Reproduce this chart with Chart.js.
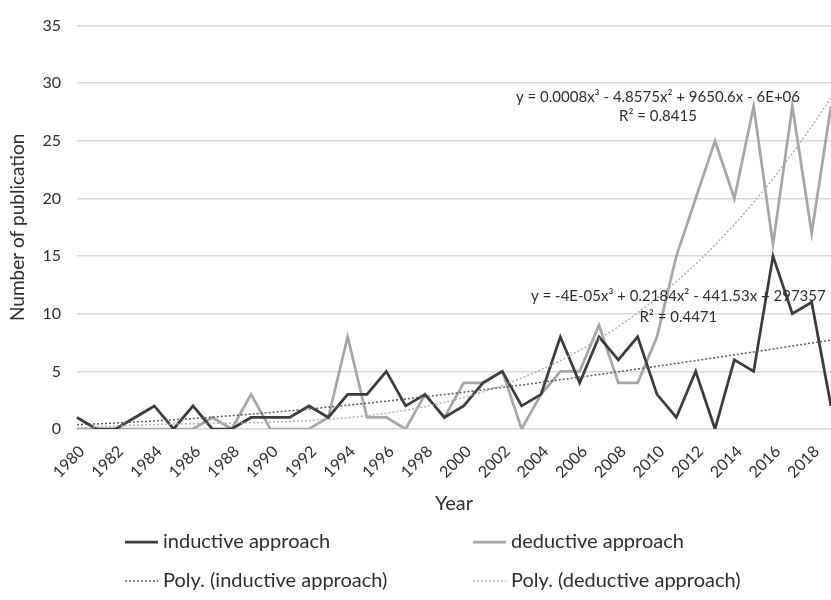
<!DOCTYPE html>
<html>
<head>
<meta charset="utf-8">
<title>Publications per year</title>
<script src="https://cdn.jsdelivr.net/npm/chart.js@4/dist/chart.umd.min.js"></script>
<style>
    html, body { margin: 0; padding: 0; background: #ffffff; }
    #grafico-wrap { width: 831px; height: 600px; }
</style>
</head>
<body>
<div id="grafico-wrap"><canvas id="graficoPublicacoes" width="831" height="600"></canvas></div>
<script>
// Dados
const anos = [];
for (let a = 1980; a <= 2019; a++) anos.push(String(a));

const indutivo = [1, 0, 0, 1, 2, 0, 2, 0, 0, 1,
                  1, 1, 2, 1, 3, 3, 5, 2, 3, 1,
                  2, 4, 5, 2, 3, 8, 4, 8, 6, 8,
                  3, 1, 5, 0, 6, 5, 15, 10, 11, 2];

const dedutivo = [0, 0, 0, 0, 0, 0, 0, 1, 0, 3,
                  0, 0, 0, 1, 8, 1, 1, 0, 3, 1,
                  4, 4, 5, 0, 3, 5, 5, 9, 4, 4,
                  8, 15, 20, 25, 20, 28, 16, 28, 17, 28];

const ticksY = [0, 5, 10, 15, 20, 25, 30, 35];

const nomesSeries = ['inductive approach', 'deductive approach',
                     'Poly. (inductive approach)', 'Poly. (deductive approach)'];

const equacaoIndutivo = ['y = -4E-05x³ + 0.2184x² - 441.53x + 297357', 'R² = 0.4471'];
const equacaoDedutivo = ['y = 0.0008x³ - 4.8575x² + 9650.6x - 6E+06', 'R² = 0.8415'];

const corEscura = '#3c3c3c';
const corClara = '#a6a6a6';
const corTexto = '#2e2e2e';
const fonte = 'Lato, "Open Sans", sans-serif';

// Função para ajustar um polinómio de grau 3 (mínimos quadrados), como a linha de tendência do Excel
function ajustePolinomial(valores) {
    const n = 4;
    const A = [];
    for (let i = 0; i < n; i++) A.push(new Array(n + 1).fill(0));
    valores.forEach((v, i) => {
        const t = (i - 19.5) / 10;
        const pot = [1, t, t * t, t * t * t];
        for (let r = 0; r < n; r++) {
            for (let c = 0; c < n; c++) A[r][c] += pot[r] * pot[c];
            A[r][n] += pot[r] * v;
        }
    });
    // eliminação de Gauss
    for (let p = 0; p < n; p++) {
        let max = p;
        for (let r = p + 1; r < n; r++) if (Math.abs(A[r][p]) > Math.abs(A[max][p])) max = r;
        [A[p], A[max]] = [A[max], A[p]];
        for (let r = p + 1; r < n; r++) {
            const f = A[r][p] / A[p][p];
            for (let c = p; c <= n; c++) A[r][c] -= f * A[p][c];
        }
    }
    const coef = new Array(n).fill(0);
    for (let r = n - 1; r >= 0; r--) {
        let s = A[r][n];
        for (let c = r + 1; c < n; c++) s -= A[r][c] * coef[c];
        coef[r] = s / A[r][r];
    }
    return valores.map((v, i) => {
        const t = (i - 19.5) / 10;
        return coef[0] + coef[1] * t + coef[2] * t * t + coef[3] * t * t * t;
    });
}

// Plugin para desenhar a legenda em duas colunas e as equações
const pluginTextos = {
    id: 'textos',
    afterDraw(chart) {
        const ctx = chart.ctx;
        const ds = chart.data.datasets;
        const x = chart.scales.x;
        const y = chart.scales.y;

        ctx.save();
        // equações das linhas de tendência
        ctx.fillStyle = corTexto;
        ctx.font = '15px ' + fonte;
        ctx.textAlign = 'center';
        ctx.textBaseline = 'middle';
        const xDed = x.getPixelForValue(30) + 1;
        ctx.fillText(equacaoDedutivo[0], xDed, y.getPixelForValue(28.8));
        ctx.fillText(equacaoDedutivo[1], xDed, y.getPixelForValue(27.1));
        const xInd = x.getPixelForValue(31) + 2;
        ctx.fillText(equacaoIndutivo[0], xInd, y.getPixelForValue(11.5));
        ctx.fillText(equacaoIndutivo[1], xInd, y.getPixelForValue(9.7));

        // legenda
        const colunas = [125, 473];
        const linhas = [542, 581];
        ctx.font = '20px ' + fonte;
        ctx.textAlign = 'left';
        ds.forEach((d, i) => {
            const cx = colunas[i % 2];
            const cy = linhas[Math.floor(i / 2)];
            ctx.beginPath();
            ctx.strokeStyle = d.borderColor;
            ctx.lineWidth = d.borderDash ? 1.5 : 2.75;
            ctx.setLineDash(d.borderDash || []);
            ctx.moveTo(cx, cy);
            ctx.lineTo(cx + 33, cy);
            ctx.stroke();
            ctx.setLineDash([]);
            ctx.fillStyle = corTexto;
            ctx.fillText(d.label, cx + 38, cy);
        });
        ctx.restore();
    }
};

const ctx = document.getElementById('graficoPublicacoes').getContext('2d');
const grafico = new Chart(ctx, {
    type: 'line',
    data: {
        labels: anos,
        datasets: [
            { label: nomesSeries[0], data: indutivo, borderColor: corEscura, borderWidth: 2.75, order: 1 },
            { label: nomesSeries[1], data: dedutivo, borderColor: corClara, borderWidth: 2.75, order: 2 },
            { label: nomesSeries[2], data: ajustePolinomial(indutivo), borderColor: '#5a5a5a', borderWidth: 1.5, borderDash: [2, 2], order: 0 },
            { label: nomesSeries[3], data: ajustePolinomial(dedutivo), borderColor: '#b0b0b0', borderWidth: 1.5, borderDash: [2, 2], order: 0 }
        ]
    },
    options: {
        responsive: false,
        animation: false,
        elements: { point: { radius: 0 }, line: { tension: 0 } },
        layout: { padding: { top: 16, right: 0, bottom: 81, left: 0 } },
        plugins: {
            legend: { display: false },
            tooltip: { enabled: false }
        },
        scales: {
            x: {
                grid: { display: false, drawTicks: false },
                border: { display: true, color: '#d9d9d9', width: 1.5 },
                ticks: {
                    autoSkip: false,
                    maxRotation: 45,
                    minRotation: 45,
                    padding: 13,
                    labelOffset: 5,
                    color: corTexto,
                    font: { family: fonte, size: 16 },
                    callback: function (valor, indice) {
                        const ano = anos[indice];
                        return Number(ano) % 2 === 0 ? ano : '';
                    }
                },
                title: {
                    display: true,
                    text: 'Year',
                    color: corTexto,
                    font: { family: fonte, size: 20 },
                    padding: { top: 0, bottom: 3 }
                },
                afterFit: function (escala) {
                    escala.height = 90;
                    escala.paddingRight = 0;
                }
            },
            y: {
                min: 0,
                max: 35,
                afterBuildTicks: function (escala) {
                    escala.ticks = ticksY.map(v => ({ value: v }));
                },
                grid: { color: '#d9d9d9', lineWidth: 1.5, drawTicks: false },
                border: { display: false },
                ticks: {
                    padding: 16,
                    color: corTexto,
                    font: { family: fonte, size: 16 }
                },
                title: {
                    display: true,
                    text: 'Number of publication',
                    color: corTexto,
                    font: { family: fonte, size: 19 },
                    padding: { top: 6, bottom: 0 }
                },
                afterFit: function (escala) {
                    escala.width = 77;
                }
            }
        }
    },
    plugins: [pluginTextos]
});
</script>
</body>
</html>
